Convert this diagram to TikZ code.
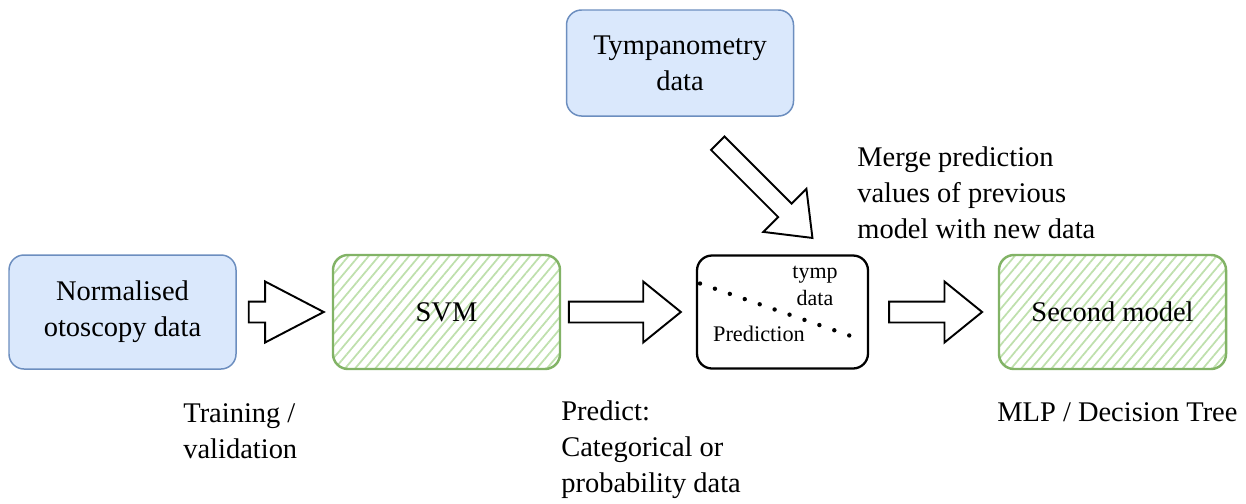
\documentclass[tikz,border=0pt]{standalone}
\usepackage{fontspec}
\setmainfont{LiberationSerif}[Extension=.ttf, UprightFont=*-Regular, BoldFont=*-Bold, ItalicFont=*-Italic]
\usetikzlibrary{positioning, shapes.arrows, patterns.meta}
\definecolor{boxblue}{HTML}{DAE8FC}
\definecolor{lineblue}{HTML}{6C8EBF}
\definecolor{linegreen}{HTML}{82B366}
\definecolor{hatchgreen}{HTML}{BFE0AD}

\begin{document}
\begin{tikzpicture}[on grid, font=\fontsize{16.2}{20.5}\selectfont,
    box/.style={rectangle, rounded corners=0.3cm, minimum width=4.54cm, minimum height=2.28cm, align=center},
    input/.style={box, draw=lineblue, line width=0.85pt, fill=boxblue},
    model/.style={box, draw=linegreen, line width=1.4pt, pattern={Lines[angle=50, distance=4.4pt, line width=1pt]}, pattern color=hatchgreen},
    blockarrow/.style={single arrow, draw, line width=1.1pt, inner sep=0.19cm, single arrow head extend=0.4cm, single arrow tip angle=78, anchor=tail},
    note/.style={align=left, anchor=west, inner xsep=0pt}]
    \useasboundingbox (0,0) rectangle (24.92,10.06);

    % Boxes
    \node[input] (otoscopy) at (2.45,3.82) {Normalised\\otoscopy data};
    \node[model] (svm) [right=6.48cm of otoscopy] {SVM};
    \node[box, draw, line width=1.3pt, minimum width=3.42cm, minimum height=2.26cm] (merge) [right=6.72cm of svm] {};
    \node[model] (second) [right=6.60cm of merge] {Second model};
    \node[input, minimum height=2.12cm] (tymp) [above=4.98cm of merge, xshift=-2.05cm] {Tympanometry\\data};

    % Inside the merge box
    \draw[line width=2.5pt, line cap=round, dash pattern=on 0pt off 0.316cm]
        ([shift={(-1.65,0.57)}]merge.center) -- ([shift={(1.51,-0.53)}]merge.center);
    \node[font=\fontsize{12.5}{15.3}\selectfont, align=center] (tymplbl) at ([shift={(0.65,0.53)}]merge.center) {tymp\\data};
    \node[font=\fontsize{12.7}{15}\selectfont] (predlbl) at ([shift={(-0.47,-0.43)}]merge.center) {Prediction};

    % Arrows
    \node[blockarrow, minimum height=1.5cm, single arrow tip angle=55] (a1) at ([xshift=0.22cm]otoscopy.east) {};
    \node[blockarrow, minimum height=2.24cm] (a2) at ([xshift=0.14cm]svm.east) {};
    \node[blockarrow, minimum height=1.86cm] (a3) at ([xshift=0.38cm]merge.east) {};
    \node[blockarrow, minimum height=2.68cm, inner sep=0.17cm, single arrow head extend=0.42cm, single arrow tip angle=76, rotate=-45] (a4) at ([xshift=-1.31cm, yshift=3.39cm]merge.center) {};

    % Notes
    \node[below right=2.39cm and 1.21cm of otoscopy, note] (trainlbl) {Training /\\validation};
    \node[below right=2.76cm and 2.29cm of svm, note] (predictlbl) {Predict:\\Categorical or\\probability data};
    \node[below left=2.01cm and 2.31cm of second, note] (modellbl) {MLP / Decision Tree};
    \node[above right=2.39cm and 1.49cm of merge, note] (mergelbl) {Merge prediction\\values of previous\\model with new data};
\end{tikzpicture}
\end{document}
